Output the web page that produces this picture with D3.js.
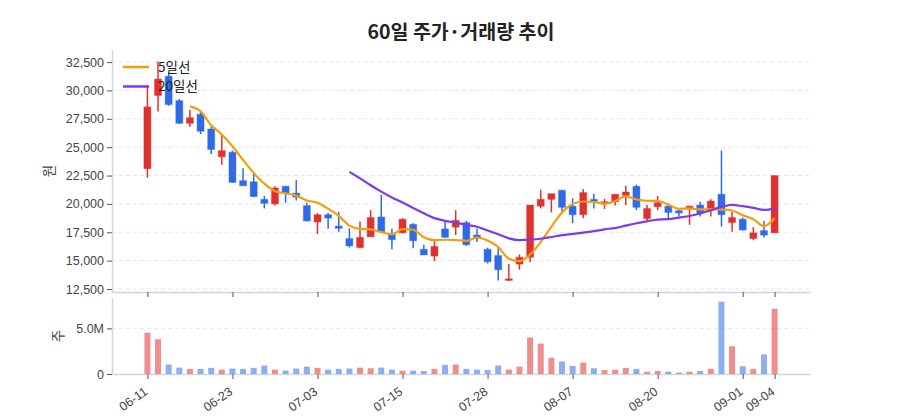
<!DOCTYPE html>
<html>
<head>
<meta charset="utf-8">
<script src="https://cdn.jsdelivr.net/npm/d3@7"></script>
<style>
  html, body { margin: 0; padding: 0; background: #fff; }
  svg { display: block; font-family: "Noto Sans CJK KR", "Noto Sans", sans-serif; }
  .grid line { stroke: #e4e6ea; stroke-dasharray: 4 3; }
  .axis .domain { stroke: #d3d6dd; stroke-width: 1.5; }
  .axis .tick line { stroke: #555; }
  .axis .tick text { fill: #444; font-size: 12.5px; }
</style>
</head>
<body>
<div id="chart"></div>
<script>
// trading days (one day of July missing in the source)
const dates = [
  '06-11','06-12','06-13','06-16','06-17','06-18','06-19','06-20','06-23','06-24',
  '06-25','06-26','06-27','06-30','07-01','07-02','07-03','07-04','07-07','07-08',
  '07-09','07-10','07-11','07-14','07-15','07-16','07-17','07-18','07-22','07-23',
  '07-24','07-25','07-28','07-29','07-30','07-31','08-01','08-04','08-05','08-06',
  '08-07','08-08','08-11','08-12','08-13','08-14','08-18','08-19','08-20','08-21',
  '08-22','08-25','08-26','08-27','08-28','08-29','09-01','09-02','09-03','09-04'
];
const open = [23100,29550,31250,29100,27100,27900,26600,24150,24550,22050,21950,20400,20000,21550,20950,19850,18400,19050,18050,16950,
  16150,17100,18850,17400,17450,18200,16000,15400,17800,17950,18350,17250,16000,15450,13250,14700,15300,19800,20400,21200,
  19800,19050,20400,20000,20200,20750,21550,18700,19750,19800,19400,19700,19900,19400,20850,18350,18650,16950,17650,17450];
const high = [30450,32550,31550,29250,28300,28150,26800,26100,24700,23150,22700,20700,21550,21600,22100,20100,19200,19200,19300,17850,
  18450,19450,20800,17800,18750,18300,16400,16750,18500,19450,18500,17800,16150,16300,14700,15550,19900,21250,20900,21250,
  20500,21300,20900,20450,20850,21600,21700,19900,20700,19900,19450,19850,20200,20400,24700,19300,18800,17950,18500,22500];
const low = [22300,28150,28650,27050,26800,26150,24400,23450,21850,21600,20600,19600,19850,20100,20300,18450,17350,17800,17550,16150,
  16100,17100,17550,16000,17400,16100,15500,14950,17050,17250,16300,16650,14750,13250,13250,14200,14850,19600,19250,19100,
  18300,18750,19600,19550,19850,19900,19450,18450,19450,18750,18900,18150,18900,18900,18000,17550,17650,16800,17050,17450];
const close = [28550,31000,28750,27100,27600,26400,24800,24700,21900,21600,20650,20050,21400,20950,20600,18500,19050,18750,17850,16300,
  17050,18800,17550,16850,18650,16750,15500,16250,17050,18550,16400,16950,14900,14200,13400,15300,19900,20400,20900,19700,
  19050,21000,20200,20200,20850,21050,19700,19600,20100,19250,19200,19800,19200,20250,19050,18800,17700,17450,17250,22500];
const volume = [4520000,3810000,1040000,700000,560000,560000,670000,480000,600000,560000,670000,930000,480000,370000,600000,810000,670000,480000,560000,600000,
  700000,630000,700000,480000,370000,370000,330000,560000,1000000,1040000,560000,480000,440000,930000,480000,810000,4000000,3330000,1780000,1370000,
  890000,1260000,630000,440000,480000,670000,560000,260000,330000,260000,150000,260000,330000,560000,7930000,3040000,850000,560000,2150000,7150000];

const tickDates = ['06-11','06-23','07-03','07-15','07-28','08-07','08-20','09-01','09-04'];
const priceTicks = [12500,15000,17500,20000,22500,25000,27500,30000,32500];
const volumeTicks = [0, 5000000];
const maSeries = [
  { name: '5일선', period: 5, color: '#f59e0b' },
  { name: '20일선', period: 20, color: '#7c3aed' }
];

// colours
const UP = '#e03131', DOWN = '#2f6be4';

// layout
const W = 900, H = 420;
const left = 112, right = 810;
const priceTop = 50, priceBottom = 292;
const volTop = 298, volBottom = 374;

const rows = dates.map((d, i) => ({
  date: d, o: open[i], h: high[i], l: low[i], c: close[i], v: volume[i], up: close[i] >= open[i]
}));

// moving average of the closes
function movingAvg(n){
  return rows.map((r, i) => i < n - 1 ? null : d3.mean(close.slice(i - n + 1, i + 1)));
}

const svg = d3.select('#chart').append('svg').attr('width', W).attr('height', H);

const x = d3.scalePoint().domain(dates).range([left, right]).padding(3.33);

const lo = d3.min(low), hi = d3.max(high), pad = (hi - lo) * 0.0525;
const yP = d3.scaleLinear().domain([lo - pad, hi + pad]).range([priceBottom, priceTop]);
const yV = d3.scaleLinear().domain([0, d3.max(volume) * 1.05]).range([volBottom, volTop]);

// title
svg.append('text')
  .attr('x', (left + right) / 2).attr('y', 39)
  .attr('text-anchor', 'middle')
  .style('font-size', '19.5px').style('font-weight', 700).style('fill', '#222')
  .text('60일 주가·거래량 추이');

// grids
svg.append('g').attr('class', 'grid')
  .selectAll('line').data(priceTicks).join('line')
  .attr('x1', left).attr('x2', right)
  .attr('y1', d => yP(d)).attr('y2', d => yP(d));
svg.append('g').attr('class', 'grid')
  .selectAll('line').data(volumeTicks.filter(d => d > 0)).join('line')
  .attr('x1', left).attr('x2', right)
  .attr('y1', d => yV(d)).attr('y2', d => yV(d));

// axes
svg.append('g').attr('class', 'axis')
  .attr('transform', `translate(${left},0)`)
  .call(d3.axisLeft(yP).tickValues(priceTicks).tickSize(5).tickSizeOuter(0).tickFormat(d3.format(',')));
svg.append('g').attr('class', 'axis')
  .attr('transform', `translate(0,${priceBottom})`)
  .call(d3.axisBottom(x).tickValues(tickDates).tickSize(5).tickSizeOuter(0).tickFormat(''));
svg.append('g').attr('class', 'axis')
  .attr('transform', `translate(${left},0)`)
  .call(d3.axisLeft(yV).tickValues(volumeTicks).tickSize(5).tickSizeOuter(0)
    .tickFormat(d => d === 0 ? '0' : (d / 1e6).toFixed(1) + 'M'));
const xAxis = svg.append('g').attr('class', 'axis')
  .attr('transform', `translate(0,${volBottom})`)
  .call(d3.axisBottom(x).tickValues(tickDates).tickSize(5).tickSizeOuter(0));
xAxis.selectAll('.tick text')
  .attr('x', 0).attr('y', 0).attr('dy', '0.35em')
  .attr('text-anchor', 'end')
  .attr('transform', 'translate(-2,16) rotate(-35)');

// axis names
svg.append('text')
  .attr('transform', `translate(54,${(priceTop + priceBottom) / 2}) rotate(-90)`)
  .attr('text-anchor', 'middle')
  .style('font-size', '13.5px').style('fill', '#444').text('원');
svg.append('text')
  .attr('transform', `translate(63,${(volTop + volBottom) / 2}) rotate(-90)`)
  .attr('text-anchor', 'middle')
  .style('font-size', '13.5px').style('fill', '#444').text('주');

// volume bars
const bw = 6;
svg.append('g').selectAll('rect').data(rows).join('rect')
  .attr('x', d => x(d.date) - bw / 2).attr('width', bw)
  .attr('y', d => yV(d.v)).attr('height', d => volBottom - yV(d.v))
  .attr('fill', d => d.up ? UP : DOWN).attr('fill-opacity', 0.55);

// candles
const candle = svg.append('g').selectAll('g').data(rows).join('g');
candle.append('line')
  .attr('x1', d => x(d.date)).attr('x2', d => x(d.date))
  .attr('y1', d => yP(d.h)).attr('y2', d => yP(d.l))
  .attr('stroke', d => d.up ? UP : DOWN).attr('stroke-width', 1.5);
candle.append('rect')
  .attr('x', d => x(d.date) - 3.5).attr('width', 7)
  .attr('y', d => yP(Math.max(d.o, d.c)))
  .attr('height', d => Math.max(1.5, Math.abs(yP(d.o) - yP(d.c))))
  .attr('fill', d => d.up ? UP : DOWN)
  .attr('stroke', d => d.up ? UP : DOWN).attr('stroke-opacity', 0.35).attr('stroke-width', 1.2);

// moving average lines
maSeries.forEach(s => {
  const vals = movingAvg(s.period);
  const line = d3.line()
    .defined(d => d != null)
    .x((d, i) => x(dates[i]))
    .y(d => yP(d))
    .curve(d3.curveMonotoneX);
  svg.append('path').datum(vals)
    .attr('d', line)
    .attr('fill', 'none').attr('stroke', s.color).attr('stroke-width', 2.2);
});

// legend
const legend = svg.append('g').selectAll('g').data(maSeries).join('g')
  .attr('transform', (d, i) => `translate(123,${67 + i * 19.5})`);
legend.append('line').attr('x1', 0).attr('x2', 26)
  .attr('stroke', d => d.color).attr('stroke-width', 2.5);
legend.append('text').attr('x', 35).attr('dy', '0.35em')
  .style('font-size', '13.5px').style('fill', '#222').text(d => d.name);
</script>
</body>
</html>
